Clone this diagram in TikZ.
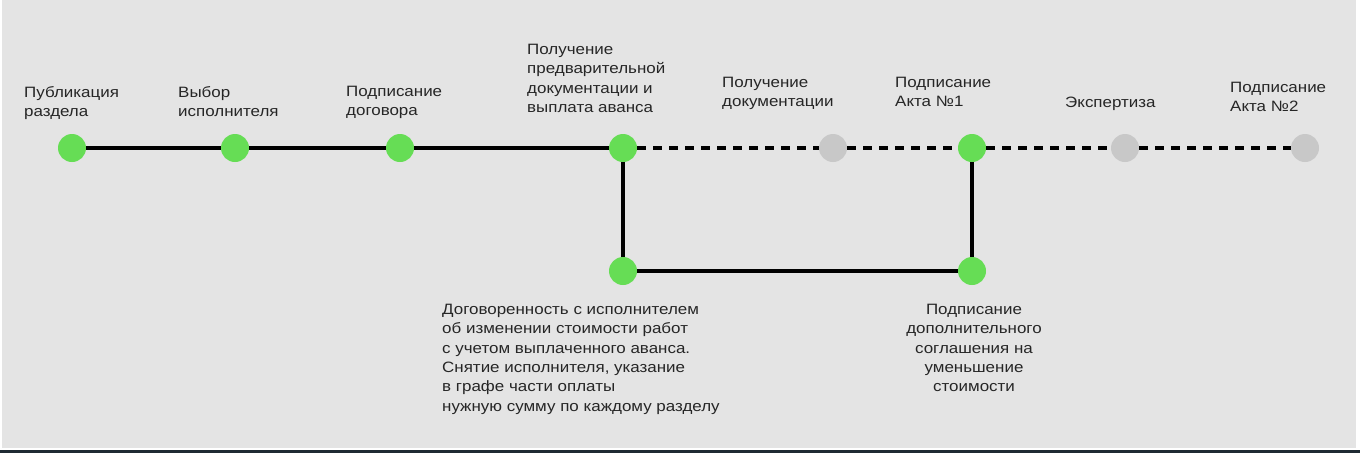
\documentclass[tikz,border=0pt]{standalone}
\usepackage{fontspec}
\setmainfont[FakeStretch=1.13]{Liberation Sans}
\usepackage{xcolor}
\definecolor{bggray}{HTML}{E4E4E4}
\definecolor{okgreen}{HTML}{66DD55}
\definecolor{waitgray}{HTML}{C8C8C8}
\definecolor{barblue}{HTML}{1F2A33}

\begin{document}
\begin{tikzpicture}[x=1pt,y=-1pt,
  done/.style={circle,fill=okgreen,minimum size=28pt,inner sep=0pt},
  todo/.style={circle,fill=waitgray,minimum size=28pt,inner sep=0pt},
  lbl/.style={inner sep=0pt,align=left,anchor=north west,text=black!85,
    font=\fontsize{15}{19.3}\selectfont},
  link/.style={line width=4pt},
  plan/.style={line width=4pt,dash pattern=on 9pt off 7pt}]
\useasboundingbox (0,0) rectangle (1360,453);
\fill[white] (0,0) rectangle (1360,453);
\fill[bggray] (2,0) rectangle (1356,448);
\fill[barblue] (0,450) rectangle (1360,453);
% milestones
\node[done] (pub) at (72,148) {};
\node[done] (vyb) at (235,148) {};
\node[done] (dog) at (400,148) {};
\node[done] (avans) at (623,148) {};
\node[todo] (docs) at (833,148) {};
\node[done] (akt1) at (972,148) {};
\node[todo] (exp) at (1125,148) {};
\node[todo] (akt2) at (1305,148) {};
\node[done] (ustup) at (623,271) {};
\node[done] (dopsogl) at (972,271) {};
% connectors
\draw[link] (pub) -- (vyb) -- (dog) -- (avans);
\draw[plan] (avans) -- (docs) -- (akt1) -- (exp) -- (akt2);
\draw[link] (avans) -- (ustup) -- (dopsogl) -- (akt1);
% labels
\node[lbl] (tpub) at (24,86) {Публикация\\раздела};
\node[lbl] (tvyb) at (178,86) {Выбор\\исполнителя};
\node[lbl] (tdog) at (346,86) {Подписание\\договора};
\node[lbl] (tavans) at (527,44) {Получение\\предварительной\\документации и\\выплата аванса};
\node[lbl] (tdocs) at (722,77) {Получение\\документации};
\node[lbl] (takt1) at (895,77) {Подписание\\Акта №1};
\node[lbl] (texp) at (1065,97) {Экспертиза};
\node[lbl] (takt2) at (1230,82) {Подписание\\Акта №2};
\node[lbl] (tustup) at (442,304) {Договоренность с исполнителем\\об изменении стоимости работ\\с учетом выплаченного аванса.\\Снятие исполнителя, указание\\в графе части оплаты\\нужную сумму по каждому разделу};
\node[lbl,align=center,anchor=north] (tdop) at (974,304) {Подписание\\дополнительного\\соглашения на\\уменьшение\\стоимости};
\end{tikzpicture}
\end{document}
